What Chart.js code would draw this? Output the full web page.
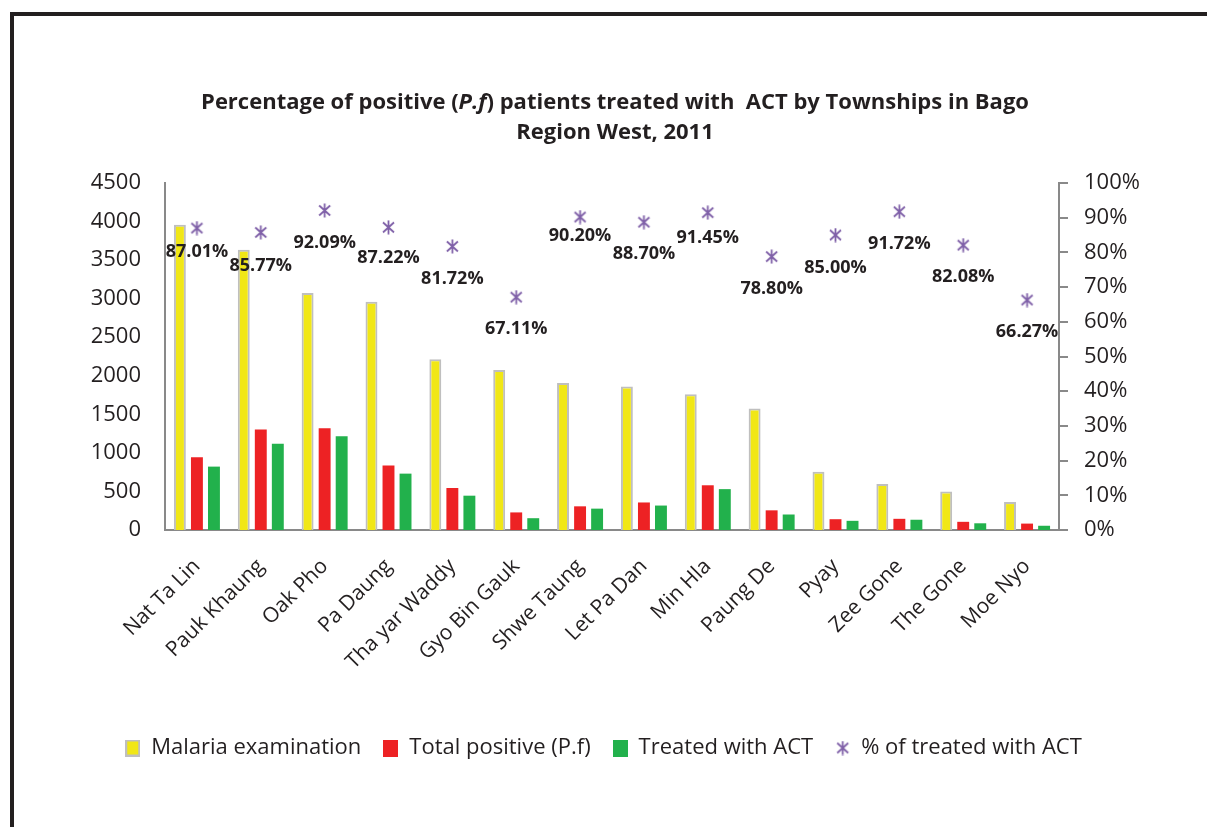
<!DOCTYPE html>
<html>
<head>
<meta charset="utf-8">
<script src="https://cdn.jsdelivr.net/npm/chart.js@4.4.1/dist/chart.umd.min.js"></script>
<style>
  html, body { margin: 0; padding: 0; background: #fff; }
  #frame { position: absolute; left: 10px; top: 12px; width: 1300px; height: 900px;
           border-top: 4px solid #231f20; border-left: 4px solid #231f20; }
  #wrap { position: absolute; left: 0; top: 0; width: 1207px; height: 827px; }
</style>
</head>
<body>
<div id="frame"></div>
<div id="wrap"><canvas id="act-chart"></canvas></div>
<script>
(function () {
    "use strict";

    var townships = ["Nat Ta Lin", "Pauk Khaung", "Oak Pho", "Pa Daung", "Tha yar Waddy", "Gyo Bin Gauk",
        "Shwe Taung", "Let Pa Dan", "Min Hla", "Paung De", "Pyay", "Zee Gone", "The Gone", "Moe Nyo"];
    var examined = [3960, 3635, 3075, 2960, 2215, 2075, 1905, 1860, 1760, 1575, 757, 598, 498, 362];
    var positive = [945, 1302, 1320, 838, 545, 228, 307, 357, 580, 255, 140, 145, 106, 83];
    var treated = [822, 1117, 1216, 731, 445, 153, 277, 317, 530, 201, 119, 133, 87, 55];
    var pctTreated = [87.01, 85.77, 92.09, 87.22, 81.72, 67.11, 90.20, 88.70, 91.45, 78.80, 85.00, 91.72, 82.08, 66.27];
    var leftTicks = [0, 4500, 500];   // min, max, step
    var rightTicks = [0, 100, 10];

    var txt = "#231f20";
    var axisGrey = "#898989";
    var purple = "#7f60a8";
    var font = "'Open Sans'";

    // star marker like the spreadsheet one (x with a vertical bar)
    function starMarker(size) {
        var c = document.createElement("canvas");
        c.width = size; c.height = size;
        var g = c.getContext("2d");
        g.strokeStyle = purple;
        g.lineWidth = 1.8;
        g.beginPath();
        g.moveTo(2, 2.5); g.lineTo(size - 2, size - 2.5);
        g.moveTo(size - 2, 2.5); g.lineTo(2, size - 2.5);
        g.moveTo(size / 2, 0.5); g.lineTo(size / 2, size - 0.5);
        g.stroke();
        return c;
    }

    function legendBox(fill, stroke) {
        var c = document.createElement("canvas");
        c.width = 15; c.height = 17;
        var g = c.getContext("2d");
        g.fillStyle = fill;
        g.fillRect(0, 0, 15, 17);
        if (stroke) {
            g.strokeStyle = stroke;
            g.lineWidth = 2;
            g.strokeRect(1, 1, 13, 15);
        }
        return c;
    }

    var titlePlugin = {
        id: "titleDraw",
        afterDraw: function (chart) {
            var ctx = chart.ctx;
            ctx.save();
            ctx.fillStyle = txt;
            ctx.textBaseline = "middle";
            var cx = 615;
            var parts = [
                ["bold 22px " + font, "Percentage of positive ("],
                ["italic bold 22px " + font, "P.f"],
                ["bold 22px " + font, ") patients treated with  ACT by Townships in Bago"]
            ];
            var total = 0;
            parts.forEach(function (p) { ctx.font = p[0]; total += ctx.measureText(p[1]).width; });
            var x = cx - total / 2;
            ctx.textAlign = "left";
            parts.forEach(function (p) {
                ctx.font = p[0];
                ctx.fillText(p[1], x, 103);
                x += ctx.measureText(p[1]).width;
            });
            ctx.font = "bold 22px " + font;
            ctx.textAlign = "center";
            ctx.fillText("Region West, 2011", cx, 133);
            ctx.restore();
        }
    };

    var pctLabels = {
        id: "pctLabels",
        afterDatasetsDraw: function (chart) {
            var ctx = chart.ctx;
            var meta = chart.getDatasetMeta(3);
            var offsets = [24, 33, 32, 31, 32, 32, 19, 32, 25, 32, 33, 32, 32, 32];
            ctx.save();
            ctx.font = "bold 18px " + font;
            ctx.fillStyle = txt;
            ctx.textAlign = "center";
            ctx.textBaseline = "middle";
            meta.data.forEach(function (pt, i) {
                ctx.fillText(pctTreated[i].toFixed(2) + "%", pt.x, pt.y + offsets[i]);
            });
            ctx.restore();
        }
    };

    var ctxChart = document.getElementById("act-chart").getContext("2d");
    var myChart = new Chart(ctxChart, {
        type: "bar",
        data: {
            labels: townships,
            datasets: [{
                label: "Malaria examination",
                data: examined,
                backgroundColor: "#f1e716",
                borderColor: "#bfbfbf",
                borderWidth: 2,
                borderSkipped: "bottom",
                pointStyle: legendBox("#f1e716", "#bfbfbf"),
                yAxisID: "y",
                order: 2
            }, {
                label: "Total positive (P.f)",
                data: positive,
                backgroundColor: "#ed2224",
                pointStyle: legendBox("#ed2224"),
                yAxisID: "y",
                order: 2
            }, {
                label: "Treated with ACT",
                data: treated,
                backgroundColor: "#22b14c",
                pointStyle: legendBox("#22b14c"),
                yAxisID: "y",
                order: 2
            }, {
                type: "line",
                label: "% of treated with ACT",
                data: pctTreated,
                showLine: false,
                pointStyle: starMarker(15),
                pointRadius: 7,
                pointHoverRadius: 7,
                borderColor: purple,
                backgroundColor: purple,
                yAxisID: "y1",
                order: 1
            }]
        },
        options: {
            responsive: true,
            maintainAspectRatio: false,
            animation: false,
            events: [],
            layout: { padding: { top: 183, bottom: 58, left: 0, right: 0 } },
            datasets: {
                bar: { categoryPercentage: 0.8, barPercentage: 0.7 }
            },
            scales: {
                x: {
                    grid: { display: false },
                    border: { display: true, color: axisGrey, width: 2 },
                    ticks: {
                        color: txt,
                        font: { family: font, size: 21 },
                        minRotation: 45,
                        maxRotation: 45,
                        padding: 16
                    },
                    afterFit: function (scale) { scale.height = 185; }
                },
                y: {
                    position: "left",
                    min: leftTicks[0],
                    max: leftTicks[1],
                    grid: { display: false },
                    border: { display: true, color: axisGrey, width: 2 },
                    ticks: {
                        stepSize: leftTicks[2],
                        color: txt,
                        font: { family: font, size: 22 },
                        padding: 16,
                        callback: function (v) { return String(v); }
                    },
                    afterFit: function (scale) { scale.width = 165; }
                },
                y1: {
                    position: "right",
                    min: rightTicks[0],
                    max: rightTicks[1],
                    grid: { display: true, drawOnChartArea: false, drawTicks: true, tickLength: 9, color: axisGrey, lineWidth: 2 },
                    border: { display: true, color: axisGrey, width: 2 },
                    ticks: {
                        stepSize: rightTicks[2],
                        color: txt,
                        font: { family: font, size: 22 },
                        padding: 16,
                        callback: function (v) { return v + "%"; }
                    },
                    afterFit: function (scale) { scale.width = 148; }
                }
            },
            plugins: {
                title: { display: false },
                tooltip: { enabled: false },
                legend: {
                    position: "bottom",
                    labels: {
                        usePointStyle: true,
                        boxHeight: 17,
                        boxWidth: 15,
                        padding: 22,
                        color: txt,
                        font: { family: font, size: 22 },
                        sort: function (a, b) { return a.datasetIndex - b.datasetIndex; }
                    }
                }
            }
        },
        plugins: [titlePlugin, pctLabels]
    });
})();
</script>
</body>
</html>
